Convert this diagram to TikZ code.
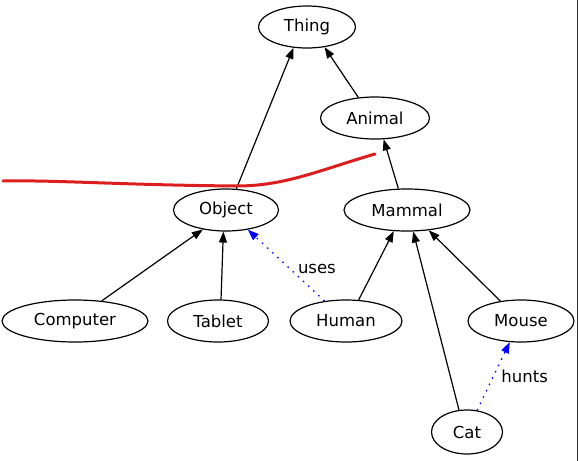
\documentclass[tikz,border=0pt]{standalone}
\usepackage{fontspec}
\setmainfont{DejaVu Sans}
\usetikzlibrary{shapes.geometric, arrows.meta}
\definecolor{custom_red}{HTML}{dc1e1e}
\definecolor{custom_blue}{HTML}{0000ff}

\begin{document}
\begin{tikzpicture}[x=1pt, y=-1pt,
    cls/.style={ellipse, draw, line width=1.2pt, inner sep=0pt, minimum height=42pt, font=\fontsize{16.5}{20}\selectfont},
    isa/.style={line width=1.2pt, -{Triangle[length=11pt, width=8pt]}},
    rel/.style={custom_blue, line width=1.3pt, dash pattern=on 1.5pt off 5.5pt, -{Triangle[length=11pt, width=8pt]}}]
      \useasboundingbox (0,0) rectangle (579,461);

      \node[cls, minimum width=97pt]  (thing)    at (307,27)  {Thing};
      \node[cls, minimum width=109pt] (animal)   at (375,118) {Animal};
      \node[cls, minimum width=105pt] (object)   at (226,210) {Object};
      \node[cls, minimum width=126pt] (mammal)   at (407,210) {Mammal};
      \node[cls, minimum width=146pt] (computer) at (75,321)  {Computer};
      \node[cls, minimum width=101pt] (tablet)   at (218,321) {Tablet};
      \node[cls, minimum width=112pt] (human)    at (346,321) {Human};
      \node[cls, minimum width=106pt] (mouse)    at (521,321) {Mouse};
      \node[cls, minimum width=71pt, minimum height=44pt] (cat) at (467,432) {Cat};

      \draw[isa] (object.64) -- (thing.237);
      \draw[isa] (animal.129) -- (thing.311);
      \draw[isa] (mammal.112) -- (animal.292);
      \draw[isa] (computer.37) -- (object.220);
      \draw[isa] (tablet.82) -- (object.263);
      \draw[isa] (human.59) -- (mammal.238);
      \draw[isa] (cat.110) -- (mammal.286);
      \draw[isa] (mouse.136) -- (mammal.317);

      \draw[rel] (human.137) -- (object.318) node[pos=0.45, right=4pt, black, font=\fontsize{16.5}{20}\selectfont] {uses};
      \draw[rel] (cat.65) -- (mouse.242) node[pos=0.5, right=4pt, black, font=\fontsize{16.5}{20}\selectfont] {hunts};

      \draw[custom_red, line width=3pt, line cap=round] (3,181) .. controls (60,180) and (120,185) .. (237,186)
            .. controls (285,186) and (320,170) .. (375,154);

      \draw[black!80, line width=1.2pt] (577.5,0) -- (577.5,461);
    \end{tikzpicture}
\end{document}
